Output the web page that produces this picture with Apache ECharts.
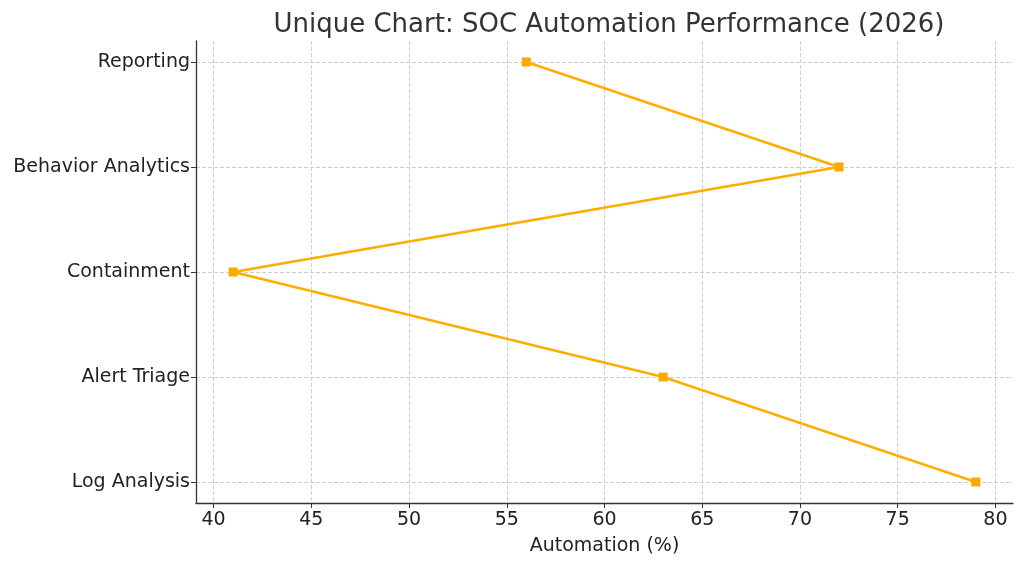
<!DOCTYPE html>
<html>
<head>
<meta charset="utf-8">
<script src="https://cdn.jsdelivr.net/npm/echarts@6/dist/echarts.min.js"></script>
<style>
  html, body { margin: 0; padding: 0; background: #fff; }
  #chart { width: 1024px; height: 564px; }
</style>
</head>
<body>
<div id="chart"></div>
<script>
const categories = ['Log Analysis', 'Alert Triage', 'Containment', 'Behavior Analytics', 'Reporting'];
const automation = [79, 63, 41, 72, 56];
const xTicks = [40, 45, 50, 55, 60, 65, 70, 75, 80];
const yTicks = [0, 1, 2, 3, 4];

const font = 'DejaVu Sans, sans-serif';
const gridLine = { color: '#cbcbcb', type: [4, 2], width: 0.9 };
const spine = { color: '#333333', width: 1.3 };

const chart = echarts.init(document.getElementById('chart'));
chart.setOption({
  animation: false,
  title: {
    text: 'Unique Chart: SOC Automation Performance (2026)',
    left: 604, top: 7, textAlign: 'center',
    textStyle: { fontFamily: font, fontSize: 26, fontWeight: 'normal', color: '#333333' },
  },
  grid: { left: 196, right: 11, top: 41, bottom: 61 },
  xAxis: {
    type: 'value', min: 39.1, max: 80.9,
    name: 'Automation (%)', nameLocation: 'middle', nameGap: 34,
    nameTextStyle: { fontFamily: font, fontSize: 19, color: '#222222' },
    axisLine: { show: true, onZero: false, lineStyle: spine },
    axisTick: { show: true, length: 5, lineStyle: { color: '#333333' }, customValues: xTicks },
    axisLabel: { fontFamily: font, fontSize: 19, color: '#222222', margin: 8, customValues: xTicks },
    splitLine: { show: true, lineStyle: gridLine },
  },
  yAxis: {
    type: 'value', min: -0.2, max: 4.2,
    axisLine: { show: true, onZero: false, lineStyle: spine },
    axisTick: { show: true, length: 5, lineStyle: { color: '#333333' }, customValues: yTicks },
    axisLabel: {
      fontFamily: font, fontSize: 19, color: '#222222', margin: 6, padding: [2, 0, 0, 0],
      customValues: yTicks,
      formatter: (v) => categories[Math.round(v)] || '',
    },
    splitLine: { show: true, lineStyle: gridLine },
  },
  series: [{
    type: 'line',
    data: automation.map((v, i) => [v, i]),
    symbol: 'rect', symbolSize: 9,
    itemStyle: { color: '#FFA800' },
    lineStyle: { color: '#FFAD00', width: 2.5 },
  }],
});
</script>
</body>
</html>
